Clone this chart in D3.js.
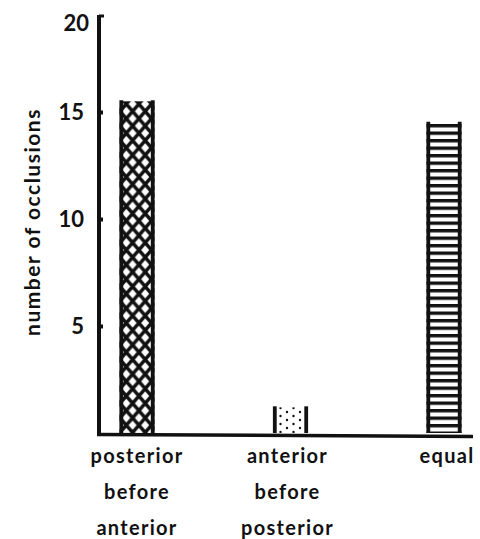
<!DOCTYPE html>
<html>
<head>
<meta charset="utf-8">
<script src="https://cdn.jsdelivr.net/npm/d3@7"></script>
<style>
  body { margin: 0; background: #fff; }
  text { font-family: Lato, "Noto Sans", sans-serif; font-weight: 700; fill: #111; }
</style>
</head>
<body>
<div id="chart"></div>
<script>
// order data
var categories = ["pab", "abp", "eq"];
var catLabels = [["posterior", "before", "anterior"], ["anterior", "before", "posterior"], ["equal"]];
var occlusions = [15.5, 1.2, 14.5];
var yTicks = [5, 10, 15, 20];
var patterns = ["cross", "dots", "ladder"];

var width = 480, height = 539;

var svg = d3.select("#chart")
  .append("svg")
  .attr("width", width)
  .attr("height", height);

var defs = svg.append("defs");

// cross-hatch: black with white diamonds
var pc = defs.append("pattern")
  .attr("id", "cross")
  .attr("patternUnits", "userSpaceOnUse")
  .attr("x", 120).attr("y", 104)
  .attr("width", 12.6).attr("height", 14.6);
pc.append("rect").attr("width", 12.6).attr("height", 14.6).attr("fill", "#111");
[[0, 0], [12.6, 0], [0, 14.6], [12.6, 14.6], [6.3, 7.3]].forEach(function(c){
  pc.append("path")
    .attr("d", "M" + c[0] + "," + (c[1] - 4.6) + "L" + (c[0] + 4) + "," + c[1] +
               "L" + c[0] + "," + (c[1] + 4.6) + "L" + (c[0] - 4) + "," + c[1] + "Z")
    .attr("fill", "#fff");
});

// dots
var pd = defs.append("pattern")
  .attr("id", "dots")
  .attr("patternUnits", "userSpaceOnUse")
  .attr("x", 271).attr("y", 410)
  .attr("width", 13).attr("height", 8);
pd.append("rect").attr("width", 13).attr("height", 8).attr("fill", "#fff");
pd.append("circle").attr("cx", 3).attr("cy", 2).attr("r", 1.2).attr("fill", "#111");
pd.append("circle").attr("cx", 9.5).attr("cy", 6).attr("r", 1.2).attr("fill", "#111");

// ladder rungs
var pl = defs.append("pattern")
  .attr("id", "ladder")
  .attr("patternUnits", "userSpaceOnUse")
  .attr("x", 0).attr("y", 124)
  .attr("width", 10).attr("height", 7.5);
pl.append("rect").attr("width", 10).attr("height", 7.5).attr("fill", "#fff");
pl.append("rect").attr("y", 0).attr("width", 10).attr("height", 3.4).attr("fill", "#111");

var x = d3.scalePoint()
  .domain(categories)
  .range([137, 444]);

var y = d3.scaleLinear()
  .domain([0, 20])
  .range([433, 5]);

var barW = 35;

// bars
var bars = svg.selectAll(".bar")
  .data(categories)
  .enter().append("g")
  .attr("class", "bar");

bars.append("rect")
  .attr("x", function(d){ return x(d) - barW / 2; })
  .attr("y", function(d, i){ return y(occlusions[i]); })
  .attr("width", barW)
  .attr("height", function(d, i){ return y(0) - y(occlusions[i]); })
  .attr("fill", function(d, i){ return "url(#" + patterns[i] + ")"; });

// side posts
bars.each(function(d, i){
  var g = d3.select(this);
  [x(d) - barW / 2 + 1.8, x(d) + barW / 2 - 1.8].forEach(function(px){
    g.append("line")
      .attr("x1", px).attr("x2", px)
      .attr("y1", y(occlusions[i]) - 1)
      .attr("y2", y(0))
      .attr("stroke", "#111")
      .attr("stroke-width", 3.8);
  });
});

// y axis ticks (no tick at 20)
var yAxis = d3.axisRight(y)
  .tickValues(yTicks.filter(function(d){ return d < 20; }))
  .tickSize(4)
  .tickFormat("");

var ya = svg.append("g")
  .attr("transform", "translate(99,0)")
  .call(yAxis);
ya.select(".domain").remove();
ya.selectAll(".tick line").attr("stroke", "#111").attr("stroke-width", 4);

svg.append("line")
  .attr("x1", 99).attr("x2", 99)
  .attr("y1", 15).attr("y2", y(0) + 2)
  .attr("stroke", "#111").attr("stroke-width", 4);
svg.append("line")
  .attr("x1", 99).attr("x2", 104)
  .attr("y1", 16).attr("y2", 16)
  .attr("stroke", "#111").attr("stroke-width", 3);

svg.selectAll(".ylab")
  .data(yTicks)
  .enter().append("text")
  .attr("class", "ylab")
  .attr("x", function(d){ return d === 20 ? 89 : 84; })
  .attr("y", function(d){ return d === 20 ? 31 : y(d) + 8; })
  .attr("text-anchor", "end")
  .attr("font-size", 22)
  .text(function(d){ return d; });

// baseline
svg.append("line")
  .attr("x1", 97).attr("x2", 473)
  .attr("y1", y(0) + 1.5).attr("y2", y(0) + 3.5)
  .attr("stroke", "#111").attr("stroke-width", 3.5);

// category labels
svg.selectAll(".xlab")
  .data(categories)
  .enter().append("text")
  .attr("class", "xlab")
  .attr("text-anchor", "middle")
  .attr("font-size", 20)
  .attr("letter-spacing", 1.3)
  .each(function(d, i){
    var t = d3.select(this);
    var cx = i === 2 ? 447 : x(d) + (i === 1 ? -3 : 0);
    catLabels[i].forEach(function(line, j){
      t.append("tspan")
        .attr("x", cx)
        .attr("y", 463 + j * 36)
        .text(line);
    });
  });

// y title
svg.append("text")
  .attr("transform", "translate(40,222) rotate(-90)")
  .attr("text-anchor", "middle")
  .attr("font-size", 21)
  .attr("letter-spacing", 1.5)
  .text("number of occlusions");
</script>
</body>
</html>
